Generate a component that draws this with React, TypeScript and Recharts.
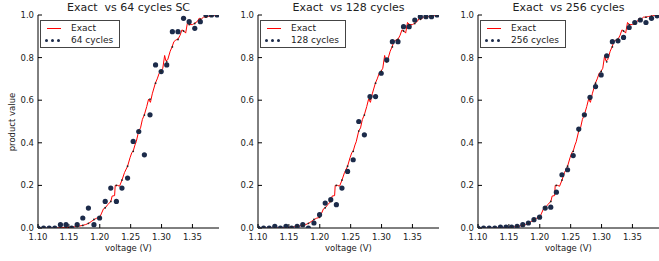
import { ComposedChart, Line, Scatter, XAxis, YAxis } from 'recharts'

// sample voltages of the stochastic runs
const volts = [
  1.1, 1.1091, 1.1181, 1.1272, 1.1363, 1.1453, 1.1544, 1.1634, 1.1725, 1.1816, 1.1906,
  1.1997, 1.2088, 1.2178, 1.2269, 1.2359, 1.245, 1.2541, 1.2631, 1.2722, 1.2813, 1.2903,
  1.2994, 1.3084, 1.3175, 1.3266, 1.3356, 1.3447, 1.3538, 1.3628, 1.3719, 1.3809, 1.39,
]

// counts of ones out of N cycles
const hits64 = [0, 0, 0, 0, 1, 1, 0, 1, 3, 6, 1, 3, 8, 12, 8, 12, 15, 26, 29, 22, 34, 49, 47, 49, 59, 59, 63, 62, 60, 62, 64, 64, 64]
const hits128 = [0, 0, 0, 1, 0, 1, 0, 1, 2, 0, 3, 8, 15, 17, 14, 24, 34, 41, 64, 56, 79, 79, 93, 101, 112, 112, 121, 121, 125, 127, 127, 127, 128]
const hits256 = [0, 0, 0, 0, 1, 1, 1, 2, 4, 6, 10, 13, 24, 25, 43, 64, 70, 87, 119, 136, 157, 170, 184, 207, 224, 225, 229, 241, 247, 250, 247, 252, 255]

// exact value at the sample voltages (small marks on the red curve)
const exactGrid = [
  0, 0, 0, 0, 0.001, 0.002, 0.004, 0.007, 0.012, 0.022, 0.04, 0.05, 0.095, 0.125, 0.2, 0.225, 0.29,
  0.36, 0.455, 0.53, 0.605, 0.68, 0.735, 0.78, 0.85, 0.885, 0.925, 0.955, 0.96, 0.98, 0.99, 0.995, 1.0,
]

// exact curve, finer steps
const exactV = [
  1.1, 1.127, 1.136, 1.145, 1.154, 1.163, 1.172, 1.177, 1.182, 1.186, 1.191, 1.195, 1.2, 1.203, 1.206,
  1.209, 1.213, 1.218, 1.22, 1.224, 1.225, 1.229, 1.232, 1.236, 1.24, 1.245, 1.249, 1.252, 1.254, 1.257,
  1.259, 1.263, 1.266, 1.269, 1.272, 1.276, 1.279, 1.282, 1.285, 1.29, 1.293, 1.296, 1.299, 1.302, 1.305,
  1.307, 1.31, 1.314, 1.317, 1.32, 1.323, 1.327, 1.33, 1.333, 1.336, 1.339, 1.342, 1.345, 1.35, 1.354,
  1.358, 1.361, 1.364, 1.368, 1.372, 1.376, 1.381, 1.386, 1.393,
]
const exactY = [
  0, 0, 0.001, 0.002, 0.004, 0.007, 0.012, 0.016, 0.022, 0.03, 0.04, 0.046, 0.05, 0.07, 0.09,
  0.095, 0.11, 0.125, 0.15, 0.152, 0.2, 0.2, 0.196, 0.225, 0.26, 0.29, 0.33, 0.355, 0.36, 0.39,
  0.405, 0.455, 0.47, 0.51, 0.53, 0.57, 0.605, 0.59, 0.63, 0.68, 0.7, 0.725, 0.735, 0.75, 0.81,
  0.785, 0.79, 0.83, 0.85, 0.875, 0.882, 0.888, 0.905, 0.93, 0.925, 0.915, 0.965, 0.955, 0.955, 0.962,
  0.97, 0.985, 0.98, 0.99, 0.99, 0.993, 0.995, 0.998, 1.0,
]

const xTicks = [1.1, 1.15, 1.2, 1.25, 1.3, 1.35]
const yTicks = [0, 0.2, 0.4, 0.6, 0.8, 1.0]

const font = '"DejaVu Sans", sans-serif'
const dotColor = '#1c2b4a'
const xDomain = [1.1, 1.393]
const PLOT_TOP = 15
const PLOT_BOTTOM = 228

const exactData = exactV.map((v, i) => ({ v, y: exactY[i] }))
const gridData = volts.map((v, i) => ({ v, y: exactGrid[i] }))

// markers are clipped to the axes box, like matplotlib does
const clipped = (r: number, fill: string, tag: string) => (p: any) => {
  const id = `c-${tag}-${Math.round(p.cx * 10)}-${Math.round(p.cy * 10)}`
  return (
    <g>
      <defs>
        <clipPath id={id}>
          <rect x={p.cx - 5} y={PLOT_TOP} width={10} height={PLOT_BOTTOM - PLOT_TOP} />
        </clipPath>
      </defs>
      <circle cx={p.cx} cy={p.cy} r={r} fill={fill} clipPath={`url(#${id})`} />
    </g>
  )
}

interface PanelProps {
  left: number
  width: number
  title: string
  name: string
  hits: number[]
  cycles: number
  yLabel?: boolean
}

const Panel = ({ left, width, title, name, hits, cycles, yLabel }: PanelProps) => {
  const dots = volts.map((v, i) => ({ v, y: hits[i] / cycles }))
  const rightM = width === 220 ? 1 : 0
  const plotW = width - 38 - rightM
  const tickStyle = { fontSize: 8.5, fill: '#222', fontFamily: font }
  return (
    <div style={{ position: 'absolute', left, top: 0, width, height: 261 }}>
      <ComposedChart width={width} height={261} margin={{ top: PLOT_TOP, right: rightM, bottom: 0, left: 0 }}>
        <XAxis xAxisId="b" dataKey="v" type="number" domain={xDomain} allowDataOverflow ticks={xTicks}
          tickFormatter={(t: number) => t.toFixed(2)} height={261 - PLOT_BOTTOM} tickSize={-4} tickMargin={10}
          stroke="#000" tick={tickStyle} interval={0} />
        <XAxis xAxisId="t" orientation="top" type="number" domain={xDomain} allowDataOverflow ticks={xTicks}
          height={0} tickSize={-4} tick={false} stroke="#000" interval={0} />
        <YAxis yAxisId="l" type="number" domain={[0, 1]} allowDataOverflow ticks={yTicks}
          tickFormatter={(t: number) => t.toFixed(1)} width={38} tickSize={-4} tickMargin={8}
          stroke="#000" tick={tickStyle} interval={0} />
        <YAxis yAxisId="r" orientation="right" type="number" domain={[0, 1]} allowDataOverflow ticks={yTicks}
          width={0} tickSize={-4} tick={false} stroke="#000" interval={0} />
        <Scatter xAxisId="b" yAxisId="l" data={dots} dataKey="y" name={name}
          shape={clipped(2.6, dotColor, `d${cycles}`)} isAnimationActive={false} />
        <Line xAxisId="b" yAxisId="l" data={exactData} dataKey="y" name="Exact" type="linear" stroke="#ff0000"
          strokeWidth={1} dot={false} activeDot={false} isAnimationActive={false} />
        <Scatter xAxisId="b" yAxisId="l" data={gridData} dataKey="y"
          shape={clipped(0.9, '#222', `g${cycles}`)} isAnimationActive={false} />
      </ComposedChart>
      <div style={{ position: 'absolute', left: 38, width: plotW, top: 2.4, textAlign: 'center', fontFamily: font,
        fontSize: 11, lineHeight: '11px', color: '#222', whiteSpace: 'pre' }}>{title}</div>
      <div style={{ position: 'absolute', left: 38, width: plotW, top: 244, textAlign: 'center', fontFamily: font,
        fontSize: 8.5, lineHeight: '9px', color: '#222' }}>voltage (V)</div>
      {yLabel && (
        <div style={{ position: 'absolute', left: 11.7, top: 122, transform: 'translate(-50%, -50%) rotate(-90deg)',
          fontFamily: font, fontSize: 8.5, color: '#222', whiteSpace: 'nowrap' }}>product value</div>
      )}
      <div style={{ position: 'absolute', left: 40, top: 20, height: 26, padding: '0 6px 0 30px', border: '1px solid #444',
        background: '#fff', fontFamily: font, fontSize: 9, color: '#222', whiteSpace: 'nowrap' }}>
        <div style={{ position: 'absolute', left: 6, top: 7, width: 14, height: 1, background: '#ff0000' }} />
        <div style={{ lineHeight: '11px', marginTop: 2 }}>Exact</div>
        {[5, 11, 17].map((x) => (
          <div key={x} style={{ position: 'absolute', left: x - 1.5, top: 18, width: 3.4, height: 3.4,
            borderRadius: '50%', background: dotColor }} />
        ))}
        <div style={{ lineHeight: '11px', marginTop: 1 }}>{name}</div>
      </div>
    </div>
  )
}

const App = () => (
  <div style={{ position: 'absolute', left: 0, top: 0, width: 659, height: 261, background: '#fff' }}>
    <Panel left={0} width={220} title="Exact  vs 64 cycles SC" name="64 cycles" hits={hits64} cycles={64} yLabel />
    <Panel left={220} width={220} title="Exact  vs 128 cycles" name="128 cycles" hits={hits128} cycles={128} />
    <Panel left={440} width={219} title="Exact  vs 256 cycles" name="256 cycles" hits={hits256} cycles={256} />
  </div>
)

export default App
